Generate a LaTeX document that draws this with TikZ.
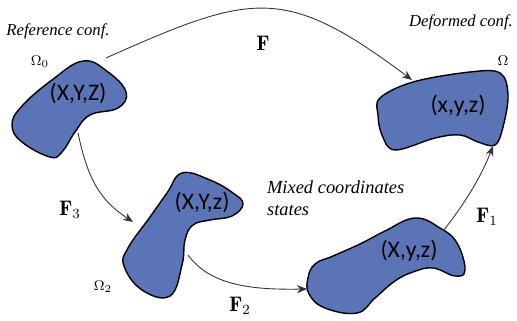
\documentclass[tikz,border=0pt]{standalone}
\usepackage{fontspec}
\newfontfamily\blobfont{Carlito}
\newfontfamily\conffont{Liberation Serif}
\usetikzlibrary{arrows.meta}
\definecolor{cblob}{HTML}{5A74B6}
\tikzset{
  blob/.style={draw=black, fill=cblob, line width=0.8pt},
  arrow/.style={-{Stealth[length=2mm, width=1.6mm]}, line width=0.5pt, draw=black!80},
  coord/.style={font=\blobfont\fontsize{13.5}{15}\selectfont},
  conf/.style={font=\conffont\itshape\fontsize{9.5}{12.5}\selectfont, align=left, inner sep=1pt},
  map/.style={font=\fontsize{12}{14}\selectfont},
  dom/.style={font=\fontsize{8}{9}\selectfont},
}
\begin{document}
\begin{tikzpicture}[x=0.02cm, y=-0.02cm]
  \useasboundingbox (0,0) rectangle (517,321);
  % the four configurations
  \draw[blob] plot[smooth cycle, tension=0.7] coordinates {(83,61) (108,72) (126,92) (118,108) (90,115) (75,132) (62,152) (50,157) (22,142) (12,125) (22,106) (52,80)};
  \draw[blob] plot[smooth cycle, tension=0.6] coordinates {(380,98) (413,82) (470,72) (500,73) (508,95) (503,127) (495,145) (478,142) (460,135) (435,138) (395,150) (382,135) (378,115)};
  \draw[blob] plot[smooth cycle, tension=0.7] coordinates {(182,173) (210,180) (233,193) (243,204) (232,216) (210,220) (193,225) (185,240) (182,265) (170,296) (142,290) (124,266) (128,248) (150,217) (167,193)};
  \draw[blob] plot[smooth cycle, tension=0.7] coordinates {(415,218) (440,228) (457,243) (465,270) (455,276) (433,268) (413,272) (395,281) (375,298) (357,313) (325,308) (309,294) (308,278) (315,264) (333,256) (360,244) (385,231)};
  \node[coord] (p0) at (78,93) {(X,Y,Z)};
  \node[coord] (p) at (458,106) {(x,y,z)};
  \node[coord] (p2) at (202,202) {(X,Y,z)};
  \node[coord] (p1) at (409,251) {(X,y,z)};
  % labels
  \node[conf] (ref) at (58,31) {Reference conf.};
  \node[conf, anchor=east] (def) at (515,22) {Deformed conf.};
  \node[conf, font=\conffont\itshape\fontsize{10.5}{12.5}\selectfont, anchor=north west] (mix) at (265,179) {Mixed coordinates\\states};
  \node[dom] (om0) at (40,62) {$\Omega_0$};
  \node[dom] (om) at (503,61) {$\Omega$};
  \node[dom] (om2) at (103,287) {$\Omega_2$};
  \node[map] (lF) at (263,43) {$\mathbf{F}$};
  \node[map] (lF3) at (70,210) {$\mathbf{F}_3$};
  \node[map] (lF2) at (240,306) {$\mathbf{F}_2$};
  \node[map] (lF1) at (487,217) {$\mathbf{F}_1$};
  % mappings
  \coordinate (a0) at (106,58);
  \coordinate (b0) at (412,80);
  \coordinate (a3) at (78,133);
  \coordinate (b3) at (133,222);
  \coordinate (a2) at (188,255);
  \coordinate (b2) at (307,289);
  \coordinate (a1) at (443,231);
  \coordinate (b1) at (493,146);
  \draw[arrow] (a0) .. controls (252,-7) and (284,-16) .. (b0);
  \draw[arrow] (a3) .. controls (88,180) and (100,200) .. (b3);
  \draw[arrow] (a2) .. controls (210,285) and (250,290) .. (b2);
  \draw[arrow] (a1) .. controls (460,210) and (480,180) .. (b1);
\end{tikzpicture}
\end{document}
